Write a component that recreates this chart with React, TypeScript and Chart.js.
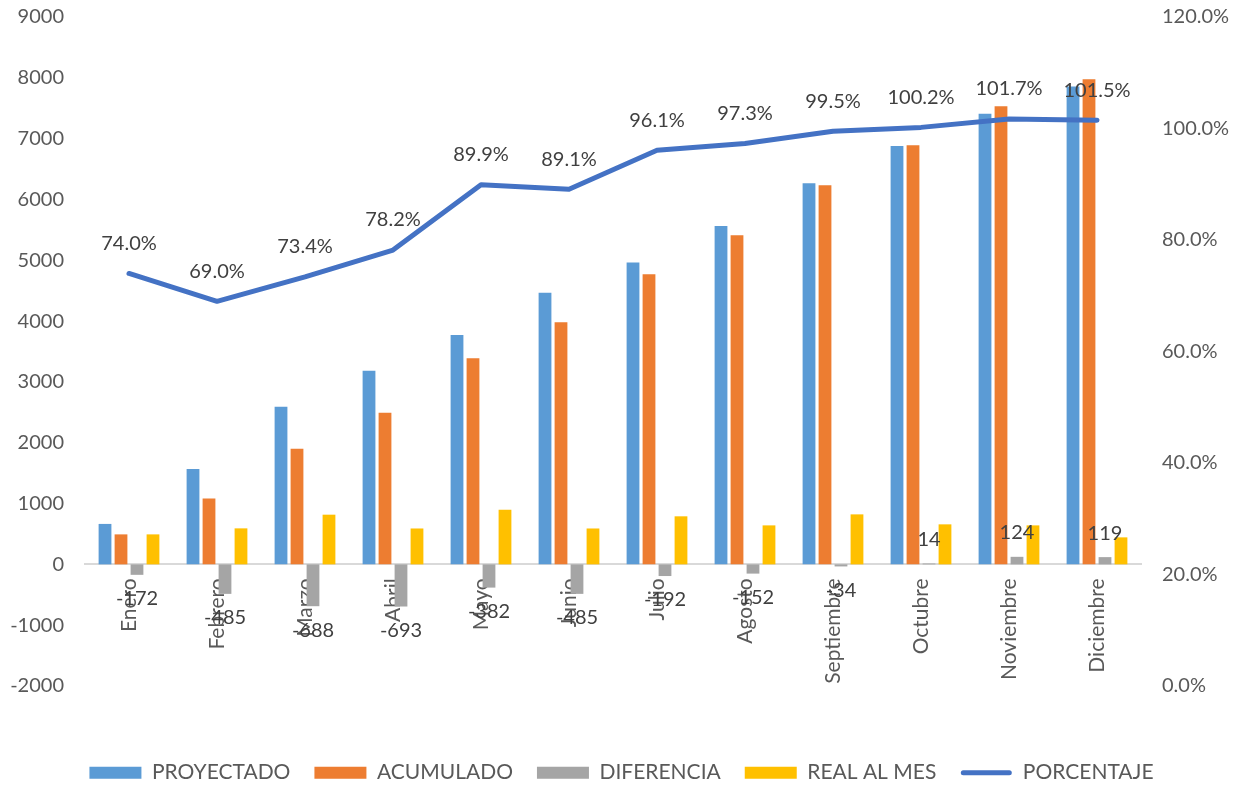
import React, { useEffect, useRef } from 'react';
import { Chart, registerables } from 'chart.js';

Chart.register(...registerables);

const meses = ['Enero', 'Febrero', 'Marzo', 'Abril', 'Mayo', 'Junio', 'Julio', 'Agosto', 'Septiembre', 'Octubre', 'Noviembre', 'Diciembre'];
const proyectado = [665, 1570, 2590, 3185, 3772, 4465, 4962, 5563, 6267, 6877, 7408, 7857];
const acumulado = [493, 1085, 1902, 2492, 3390, 3980, 4770, 5411, 6233, 6891, 7532, 7976];
const diferencia = [-172, -485, -688, -693, -382, -485, -192, -152, -34, 14, 124, 119];
const realAlMes = [493, 592, 817, 590, 898, 590, 790, 641, 822, 658, 641, 444];
const porcentaje = [74.0, 69.0, 73.4, 78.2, 89.9, 89.1, 96.1, 97.3, 99.5, 100.2, 101.7, 101.5];

const FONT = 'Lato, "Open Sans", sans-serif';
const TICK_COLOR = '#595959';
const LABEL_COLOR = '#404040';
const LINE_COLOR = '#4472C4';

export default function App() {
  const ref = useRef<HTMLCanvasElement>(null);

  useEffect(() => {
    if (!ref.current) return;

    const legendFitPlugin = {
      id: 'legendFit',
      beforeInit(chart: any) {
        const lg = chart.legend;
        if (lg) {
          const orig = lg.fit.bind(lg);
          lg.fit = () => {
            orig();
            lg.height = 99;
          };
        }
      },
    };

    const labelPlugin = {
      id: 'valueLabels',
      afterDatasetsDraw(chart: any) {
        const ctx = chart.ctx;
        ctx.save();
        ctx.font = `20px ${FONT}`;
        ctx.fillStyle = LABEL_COLOR;
        ctx.textAlign = 'center';
        ctx.textBaseline = 'middle';
        const difMeta = chart.getDatasetMeta(2);
        difMeta.data.forEach((el: any, i: number) => {
          const v = diferencia[i];
          ctx.fillText(String(v), el.x, el.y + (v < 0 ? 24 : -24));
        });
        const lineMeta = chart.getDatasetMeta(4);
        lineMeta.data.forEach((el: any, i: number) => {
          ctx.fillText(porcentaje[i].toFixed(1) + '%', el.x, el.y - 30);
        });
        ctx.restore();
      },
      afterDraw(chart: any) {
        const lg = chart.legend;
        if (!lg || !lg.legendHitBoxes) return;
        const hb = lg.legendHitBoxes.find((h: any, i: number) => lg.legendItems[i] && lg.legendItems[i].datasetIndex === 4);
        if (!hb) return;
        const ctx = chart.ctx;
        ctx.save();
        ctx.strokeStyle = LINE_COLOR;
        ctx.lineWidth = 5;
        ctx.lineCap = 'round';
        const y = hb.top + hb.height / 2;
        ctx.beginPath();
        ctx.moveTo(hb.left + 3, y);
        ctx.lineTo(hb.left + 49, y);
        ctx.stroke();
        ctx.restore();
      },
    };

    const fixY = (width: number) => (s: any) => {
      s.width = width;
      s.paddingTop = 17;
      s.paddingBottom = 12;
    };

    const chart = new Chart(ref.current, {
      type: 'bar',
      data: {
        labels: meses,
        datasets: [
          { label: 'PROYECTADO', data: proyectado, backgroundColor: '#5B9BD5', order: 1, yAxisID: 'y' },
          { label: 'ACUMULADO', data: acumulado, backgroundColor: '#ED7D31', order: 1, yAxisID: 'y' },
          { label: 'DIFERENCIA', data: diferencia, backgroundColor: '#A5A5A5', order: 1, yAxisID: 'y' },
          { label: 'REAL AL MES', data: realAlMes, backgroundColor: '#FFC000', order: 1, yAxisID: 'y' },
          {
            type: 'line',
            label: 'PORCENTAJE',
            data: porcentaje,
            borderColor: LINE_COLOR,
            backgroundColor: LINE_COLOR,
            borderWidth: 5,
            pointRadius: 0,
            tension: 0,
            borderCapStyle: 'round',
            borderJoinStyle: 'round',
            order: 0,
            yAxisID: 'y1',
          } as any,
        ],
      },
      options: {
        responsive: false,
        animation: false,
        devicePixelRatio: 1,
        layout: { padding: { top: 0, bottom: 0, left: 0, right: 0 } },
        datasets: {
          bar: { categoryPercentage: 0.727, barPercentage: 0.8, borderWidth: 0 },
        },
        plugins: {
          tooltip: { enabled: false },
          legend: {
            position: 'bottom',
            title: { display: true, text: '', padding: { top: 51, bottom: 0 }, font: { size: 1 } },
            labels: {
              boxWidth: 52,
              boxHeight: 12,
              padding: 24,
              color: TICK_COLOR,
              font: { size: 21, family: FONT },
              sort: (a: any, b: any) => a.datasetIndex - b.datasetIndex,
              generateLabels(c: any) {
                const items = (Chart.defaults.plugins.legend.labels as any).generateLabels(c);
                items.forEach((it: any) => {
                  it.lineWidth = 0;
                  if (it.datasetIndex === 4) {
                    it.fillStyle = 'rgba(0,0,0,0)';
                    it.strokeStyle = 'rgba(0,0,0,0)';
                  }
                });
                return items;
              },
            },
          },
        },
        scales: {
          x: {
            position: { y: 0 } as any,
            grid: { display: false, drawTicks: false },
            border: { display: true, color: '#D9D9D9', width: 2 },
            ticks: {
              minRotation: 90,
              maxRotation: 90,
              autoSkip: false,
              padding: 14,
              color: TICK_COLOR,
              font: { size: 21, family: FONT },
            },
          },
          y: {
            position: 'left',
            min: -2000,
            max: 9000,
            grid: { display: false, drawTicks: false },
            border: { display: false },
            ticks: {
              stepSize: 1000,
              padding: 21,
              color: TICK_COLOR,
              font: { size: 20, family: FONT },
              callback: (v: any) => String(v),
            },
            afterFit: fixY(85),
          },
          y1: {
            position: 'right',
            min: 0,
            max: 120,
            grid: { display: false, drawTicks: false },
            border: { display: false },
            ticks: {
              stepSize: 20,
              padding: 21,
              color: TICK_COLOR,
              font: { size: 20, family: FONT },
              callback: (v: any) => Number(v).toFixed(1) + '%',
            },
            afterFit: fixY(102),
          },
        },
      },
      plugins: [legendFitPlugin, labelPlugin],
    });

    return () => chart.destroy();
  }, []);

  return (
    <div style={{ position: 'absolute', left: 0, top: 0, width: 1243, height: 785, background: '#fff' }}>
      <canvas ref={ref} width={1243} height={785} />
    </div>
  );
}
